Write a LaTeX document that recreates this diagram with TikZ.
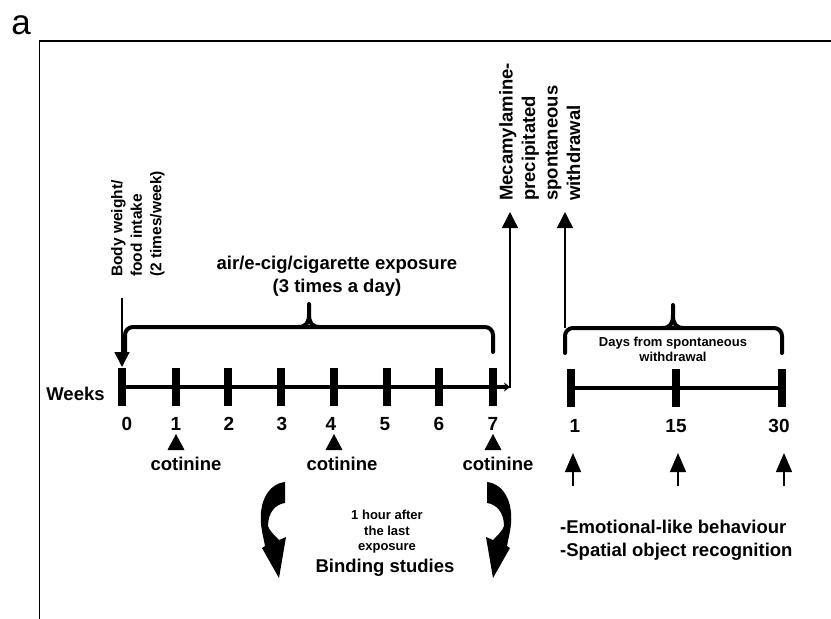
\documentclass[tikz,border=0pt]{standalone}
\usepackage{fontspec}
\setmainfont{Liberation Sans}
\usetikzlibrary{arrows.meta}
\begin{document}
\begin{tikzpicture}[x=1pt,y=-1pt,
  wtick/.style={fill=black, inner sep=0, minimum width=8pt, minimum height=38pt},
  lbl/.style={font=\bfseries\fontsize{18.5}{23}\selectfont, inner sep=0},
  numlbl/.style={font=\bfseries\fontsize{19}{22}\selectfont, inner sep=0},
  smalltxt/.style={font=\bfseries\fontsize{13}{15.5}\selectfont, inner sep=0, align=center},
  thinln/.style={line width=1.5pt},
  bracepath/.style={line width=4pt, rounded corners=8pt, line cap=round},
  bigtip/.style={-{Triangle[length=16pt,width=16pt]}},
  cotri/.style={fill=black},
]
\useasboundingbox (0,0) rectangle (831,619);

% panel label and frame
\node[font=\fontsize{35}{35}\selectfont, inner sep=0] (plabel) at (21,25) {a};
\draw[line width=1.8pt] (39.5,619) -- (39.5,41) -- (831,41);

% week ticks
\foreach \i/\x in {0/122,1/176,2/228,3/281,4/334,5/387,6/439,7/493}{
  \node[wtick] (w\i) at (\x,387) {};
}
\coordinate (corner) at (510,387);
\coordinate (mecatip) at (510,212);
\draw[line width=4pt, -{Stealth[length=6pt,width=9pt]}] (w0.center) -- (corner);
\draw[thinln, bigtip] ([yshift=-1pt]corner) -- (mecatip);

\node[lbl] (weeks) at (75.5,394) {Weeks};
\foreach \t/\x in {0/127,1/176,2/229,3/282,4/331,5/385,6/439,7/493}{
  \node[numlbl] (n\t) at (\x,424) {\t};
}

% days ticks
\node[wtick] (d1) at (571,388) {};
\node[wtick] (d15) at (676,388) {};
\node[wtick] (d30) at (782,388) {};
\draw[line width=4.5pt] (d1.center) -- (d30.center);
\node[numlbl] (m1) at (575,426) {1};
\node[numlbl] (m15) at (676,426) {15};
\node[numlbl] (m30) at (779,426) {30};

% brace 1 (exposure)
\draw[bracepath] (125,352) -- (125,327) -- (493,327) -- (493,352);
\draw[line width=4pt, line cap=round] (298,327) .. controls (306,327) and (309,323) .. (309,314) -- (309,304);
\draw[line width=4pt, line cap=round] (320,327) .. controls (312,327) and (309,323) .. (309,314);
\node[lbl, align=center] (expo) at (337,276) {air/e-cig/cigarette exposure\\(3 times a day)};

% body weight arrow
\node[rotate=90, anchor=north west, align=left, font=\bfseries\fontsize{15.5}{19.5}\selectfont, inner sep=0] (bw) at (111,277) {Body weight/\\food intake\\(2 times/week)};
\coordinate (bwstart) at (122,298);
\coordinate (bwtip) at (122,367);
\draw[thinln, -{Triangle[length=15pt,width=15pt]}] (bwstart) -- (bwtip);

% brace 2 (days)
\draw[bracepath] (565,353) -- (565,328) -- (782,328) -- (782,353);
\draw[line width=4pt, line cap=round] (662,328) .. controls (670,328) and (673,324) .. (673,315) -- (673,305);
\draw[line width=4pt, line cap=round] (684,328) .. controls (676,328) and (673,324) .. (673,315);
\node[font=\bfseries\fontsize{13}{15}\selectfont, inner sep=0, align=center] (days) at (673,349) {Days from spontaneous\\withdrawal};
\coordinate (spbase) at (565,328);
\coordinate (sptip) at (565,212);
\draw[thinln, bigtip] (spbase) -- (sptip);

\node[rotate=90, anchor=north west, align=left, inner sep=0, font=\bfseries\fontsize{18.5}{22.5}\selectfont] (meca) at (499,201) {Mecamylamine-\\precipitated\\spontaneous\\withdrawal};

% cotinine markers
\foreach \x/\lx in {176/186,334/342,493/498}{
  \fill[cotri] (\x,434) -- (\x+8.5,450) -- (\x-8.5,450) -- cycle;
  \node[lbl] at (\lx,464) {cotinine};
}

% day arrows
\foreach \x in {573,678,784}{
  \draw[thinln, -{Triangle[length=19pt,width=16pt]}] (\x,486) -- (\x,453);
}
\node[lbl, align=left, anchor=west] (tests) at (560,540.5) {-Emotional-like behaviour\\-Spatial object recognition};

% curved arrows
\def\curvedarrow{(285,482) .. controls (268,484) and (259,502) .. (261,524)
 .. controls (262,533) and (264,540) .. (265,546)
 -- (262,548) -- (279,578) -- (286,537) -- (279,540)
 .. controls (274,535) and (269,530) .. (268,526)
 .. controls (268,512) and (276,504) .. (285,503) -- cycle}
\fill \curvedarrow;
\begin{scope}[xshift=772pt, xscale=-1]
\fill \curvedarrow;
\end{scope}
\node[smalltxt] (hour) at (387,532) {1 hour after\\the last\\exposure};
\node[lbl] (binding) at (385,568) {Binding studies};
\end{tikzpicture}
\end{document}
